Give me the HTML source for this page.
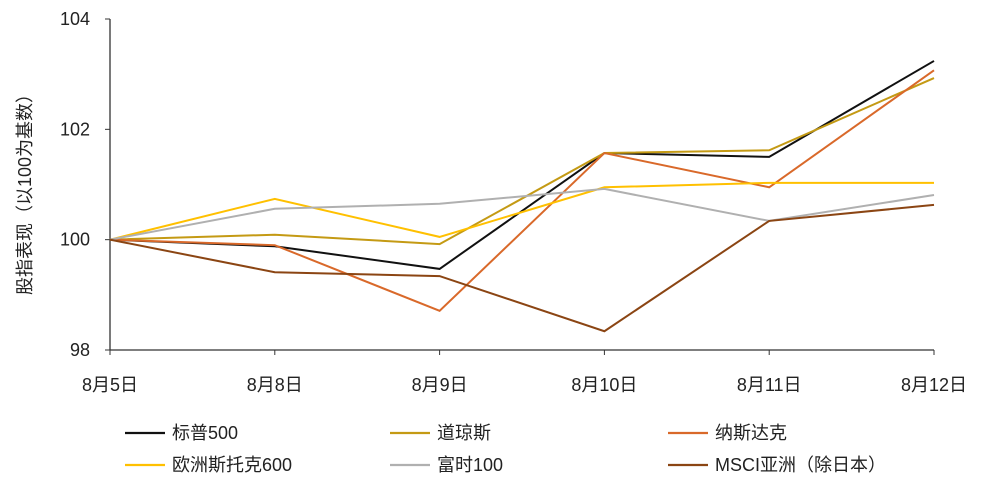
<!DOCTYPE html>
<html><head><meta charset="utf-8"><style>
body{margin:0;background:#fff;}
svg text{font-family:"Liberation Sans","Noto Sans CJK SC",sans-serif;fill:#222;}
</style></head><body>
<svg id="chart" width="982" height="490" viewBox="0 0 982 490" xmlns="http://www.w3.org/2000/svg">
<g id="axes"></g><g id="series"></g><g id="legend"></g>
</svg>
<script>
const categories=["8月5日","8月8日","8月9日","8月10日","8月11日","8月12日"];
const yTicks=[98,100,102,104];
const seriesNames=["标普500","道琼斯","纳斯达克","欧洲斯托克600","富时100","MSCI亚洲（除日本）"];
const spx=[100,99.88,99.47,101.57,101.5,103.24];
const dow=[100,100.09,99.92,101.57,101.62,102.93];
const ndx=[100,99.9,98.71,101.57,100.95,103.07];
const stoxx=[100,100.74,100.05,100.95,101.03,101.03];
const ftse=[100,100.56,100.65,100.92,100.34,100.81];
const msci=[100,99.41,99.34,98.34,100.34,100.63];
const colors=["#111111","#c49a14","#d9692a","#ffc000","#b0b0b0","#8b4513"];
const slugs=["sp500","dow-jones","nasdaq","stoxx600","ftse100","msci-asia-ex-japan"];
const allSeries=[spx,dow,ndx,stoxx,ftse,msci];
const NS="http://www.w3.org/2000/svg";
const x0=110,x1=934,yTop=19,yBot=350,yMin=98,yMax=104;
const xs=i=>x0+(x1-x0)*i/(categories.length-1);
const ys=v=>yBot-(v-yMin)/(yMax-yMin)*(yBot-yTop);
function mk(tag,attrs,parent){const e=document.createElementNS(NS,tag);for(const k in attrs)e.setAttribute(k,attrs[k]);parent.appendChild(e);return e;}
const axes=document.getElementById('axes');
let a=mk('line',{x1:x0,y1:yTop,x2:x0,y2:yBot,stroke:'#333','stroke-width':1.3},axes);


a=mk('line',{x1:x0,y1:yBot,x2:x1,y2:yBot,stroke:'#333','stroke-width':1.3},axes);


yTicks.forEach(v=>{
 mk('line',{x1:x0-5,y1:ys(v),x2:x0,y2:ys(v),stroke:'#333'},axes);
 const t=mk('text',{x:x0-20,y:ys(v)+6,'text-anchor':'end','font-size':18},axes);
 t.textContent=v;
 
 
});
categories.forEach((c,i)=>{
 mk('line',{x1:xs(i),y1:yBot,x2:xs(i),y2:yBot+5,stroke:'#333'},axes);
 const t=mk('text',{x:xs(i),y:yBot+41,'text-anchor':'middle','font-size':18},axes);
 t.textContent=c;
 
 
});
const yt=mk('text',{x:0,y:0,'text-anchor':'middle','font-size':18,transform:'translate(31,190) rotate(-90)'},axes);
yt.textContent="股指表现（以100为基数）";


const sg=document.getElementById('series');
allSeries.forEach((s,k)=>{
 const p=mk('polyline',{points:s.map((v,i)=>xs(i)+','+ys(v)).join(' '),fill:'none',stroke:colors[k],'stroke-width':2},sg);
 
 
});
const lg=document.getElementById('legend');
const lx=[125,390,668],ly=[433,465];
seriesNames.forEach((n,k)=>{
 const x=lx[k%3],y=ly[Math.floor(k/3)];
 const g=mk('g',{},lg);
 
 
 mk('line',{x1:x,y1:y,x2:x+40,y2:y,stroke:colors[k],'stroke-width':2.2},g);
 const t=mk('text',{x:x+47,y:y+6,'font-size':18},g);
 t.textContent=n;
});
</script>
</body></html>
